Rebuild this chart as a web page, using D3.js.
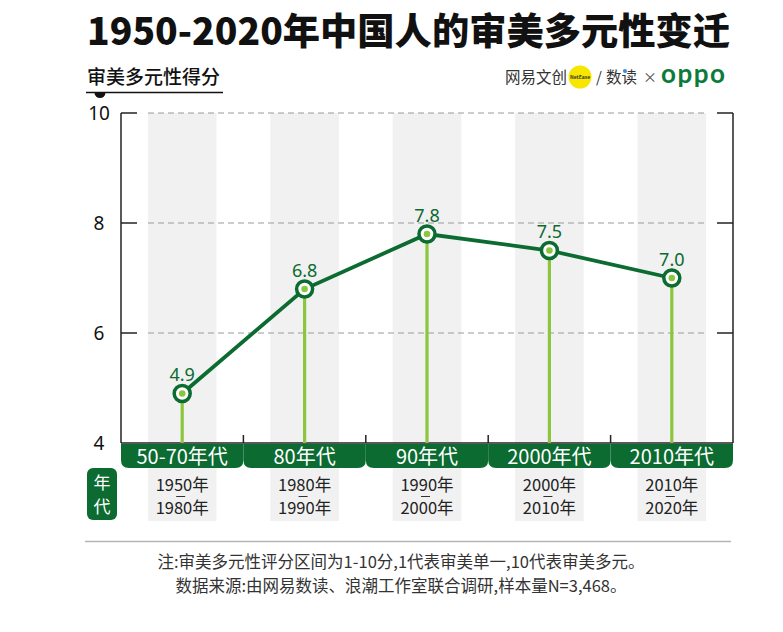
<!DOCTYPE html>
<html><head><meta charset="utf-8">
<script src="https://cdn.jsdelivr.net/npm/d3@7/dist/d3.min.js"></script>
<style>
html,body{margin:0;padding:0;background:#fff;}
svg{display:block;font-family:"Noto Sans CJK SC","Noto Sans",sans-serif;}
</style></head>
<body>
<svg id="c" width="783" height="632"></svg>
<script>
const categories = ["50-70年代","80年代","90年代","2000年代","2010年代"];
const scores = [4.9, 6.8, 7.8, 7.5, 7.0];
const startYears = ["1950年","1980年","1990年","2000年","2010年"];
const endYears = ["1980年","1990年","2000年","2010年","2020年"];
const yTicks = [4, 6, 8, 10];
const titleText = "1950-2020年中国人的审美多元性变迁";
const yAxisTitle = "审美多元性得分";
const notes = ["注:审美多元性评分区间为1-10分,1代表审美单一,10代表审美多元。",
               "数据来源:由网易数读、浪潮工作室联合调研,样本量N=3,468。"];

const DARK = "#0b6b30", LIGHT = "#8cc63f", GRAY = "#f1f1f1";
const svg = d3.select("#c");

const x = d3.scaleBand().domain(categories).range([121, 733]).padding(0);
const y = d3.scaleLinear().domain([4, 10]).range([443, 113]);
const bw = x.bandwidth();
const cx = d => x(d) + bw / 2;
const grayW = bw * 0.56;

// title
svg.append("text").attr("x", 87).attr("y", 45)
  .attr("font-size", 37).attr("font-weight", 900).attr("fill", "#111")
  .attr("textLength", 643).attr("lengthAdjust", "spacingAndGlyphs")
  .text(titleText);

// y axis title
svg.append("text").attr("x", 87).attr("y", 84).attr("font-size", 19)
  .attr("font-weight", 500).attr("fill", "#111").text(yAxisTitle);
svg.append("line").attr("x1", 86).attr("x2", 223).attr("y1", 92.5).attr("y2", 92.5)
  .attr("stroke", "#111").attr("stroke-width", 1.5);
svg.append("path").attr("d", d3.arc()({innerRadius:0, outerRadius:5.5, startAngle:Math.PI/2, endAngle:Math.PI*1.5}))
  .attr("transform", "translate(100,92.5)").attr("fill", "#111");

// logo
const logo = svg.append("g");
logo.append("text").attr("x", 505).attr("y", 83).attr("font-size", 15.5).attr("fill", "#333").text("网易文创");
logo.append("circle").attr("cx", 580).attr("cy", 77).attr("r", 11.5).attr("fill", "#f6e600");
logo.append("text").attr("x", 580).attr("y", 79).attr("font-size", 5).attr("font-weight", 700)
  .attr("text-anchor", "middle").attr("fill", "#333").text("NetEase");
logo.append("text").attr("x", 596).attr("y", 83).attr("font-size", 15).attr("fill", "#333").text("/");
logo.append("text").attr("x", 606).attr("y", 83).attr("font-size", 15.5).attr("fill", "#333").text("数读");
logo.append("circle").attr("cx", 625).attr("cy", 71).attr("r", 2).attr("fill", "#3b8ede");
logo.append("text").attr("x", 643).attr("y", 82).attr("font-size", 14).attr("fill", "#555").text("×");
logo.append("text").attr("x", 661).attr("y", 83).attr("font-size", 26).attr("font-family", "Lato, sans-serif")
  .attr("font-weight", 700).attr("fill", "#0c7a3a").attr("letter-spacing", 1.5).text("oppo");

// gray columns
svg.append("g").selectAll("rect").data(categories).join("rect")
  .attr("x", d => cx(d) - grayW / 2).attr("width", grayW)
  .attr("y", 113).attr("height", 521 - 113).attr("fill", GRAY);

// grid lines
svg.append("g").selectAll("line").data(yTicks.filter(v => v > 4)).join("line")
  .attr("x1", 148).attr("x2", 707).attr("y1", d => y(d)).attr("y2", d => y(d))
  .attr("stroke", "#9a9a9a").attr("stroke-width", 1).attr("stroke-dasharray", "6,4");

// frame
const frame = svg.append("g").attr("stroke", "#222").attr("stroke-width", 1.5).attr("fill", "none");
frame.append("line").attr("x1", 121).attr("x2", 121).attr("y1", y(10)).attr("y2", y(4));
frame.append("line").attr("x1", 733).attr("x2", 733).attr("y1", y(10)).attr("y2", y(4));
frame.append("line").attr("x1", 121).attr("x2", 733).attr("y1", y(4)).attr("y2", y(4));
yTicks.filter(v => v > 4).forEach(v => {
  frame.append("line").attr("x1", 121).attr("x2", 137).attr("y1", y(v)).attr("y2", y(v));
  frame.append("line").attr("x1", 717).attr("x2", 733).attr("y1", y(v)).attr("y2", y(v));
});
categories.slice(1).forEach(c => {
  frame.append("line").attr("x1", x(c)).attr("x2", x(c)).attr("y1", y(4) - 8).attr("y2", y(4));
});

// y tick labels
svg.append("g").selectAll("text").data(yTicks).join("text")
  .attr("x", 99).attr("y", d => y(d)).attr("dy", "0.35em").attr("text-anchor", "middle")
  .attr("font-size", 19).attr("fill", "#111").attr("font-family", "'Noto Sans',sans-serif").text(d => d);

// green band segments
const r = 8, b0 = 444, b1 = 468;
svg.append("g").selectAll("path").data(categories).join("path")
  .attr("d", d => {
    const x0 = x(d), x1 = x(d) + bw;
    return `M${x0},${b0}H${x1}V${b1 - r}Q${x1},${b1} ${x1 - r},${b1}H${x0 + r}Q${x0},${b1} ${x0},${b1 - r}Z`;
  }).attr("fill", DARK);
svg.append("g").selectAll("text").data(categories).join("text")
  .attr("x", d => cx(d)).attr("y", 464).attr("text-anchor", "middle")
  .attr("font-size", 20).attr("fill", "#fff").text(d => d);

// 年代 box
svg.append("rect").attr("x", 87).attr("y", 468).attr("width", 30).attr("height", 52).attr("rx", 6).attr("fill", DARK);
svg.append("text").attr("x", 102).attr("y", 489).attr("text-anchor", "middle").attr("font-size", 17).attr("fill", "#fff").text("年");
svg.append("text").attr("x", 102).attr("y", 513).attr("text-anchor", "middle").attr("font-size", 17).attr("fill", "#fff").text("代");

// year ranges
const yr = svg.append("g").attr("font-size", 16.5).attr("fill", "#222").attr("text-anchor", "middle");
categories.forEach((c, i) => {
  yr.append("text").attr("x", cx(c)).attr("y", 491).text(startYears[i]);
  yr.append("line").attr("x1", cx(c) - 6).attr("x2", cx(c) + 3).attr("y1", 496.5).attr("y2", 496.5)
    .attr("stroke", "#333").attr("stroke-width", 1);
  yr.append("text").attr("x", cx(c)).attr("y", 514).text(endYears[i]);
});

// stems
svg.append("g").selectAll("line").data(categories).join("line")
  .attr("x1", d => cx(d)).attr("x2", d => cx(d))
  .attr("y1", (d, i) => y(scores[i])).attr("y2", y(4))
  .attr("stroke", LIGHT).attr("stroke-width", 3.2);

// line
svg.append("path").datum(scores)
  .attr("d", d3.line().x((d, i) => cx(categories[i])).y(d => y(d)))
  .attr("fill", "none").attr("stroke", DARK).attr("stroke-width", 3.8);

// markers
const pts = svg.append("g").selectAll("g").data(scores).join("g")
  .attr("transform", (d, i) => `translate(${cx(categories[i])},${y(d)})`);
pts.append("circle").attr("r", 8).attr("fill", "#fff").attr("stroke", DARK).attr("stroke-width", 3.5);
pts.append("circle").attr("r", 3.3).attr("fill", LIGHT);
pts.append("text").attr("y", -12.5).attr("text-anchor", "middle").attr("font-size", 18)
  .attr("fill", DARK).attr("font-family", "'Noto Sans',sans-serif").text(d => d.toFixed(1));

// footer
svg.append("line").attr("x1", 85).attr("x2", 731).attr("y1", 541.5).attr("y2", 541.5)
  .attr("stroke", "#b5b5b5").attr("stroke-width", 1.5);
svg.append("g").selectAll("text").data(notes).join("text")
  .attr("x", 401).attr("y", (d, i) => 567.5 + i * 24).attr("text-anchor", "middle")
  .attr("font-size", 16.5).attr("fill", "#333").text(d => d);
</script>
</body></html>
